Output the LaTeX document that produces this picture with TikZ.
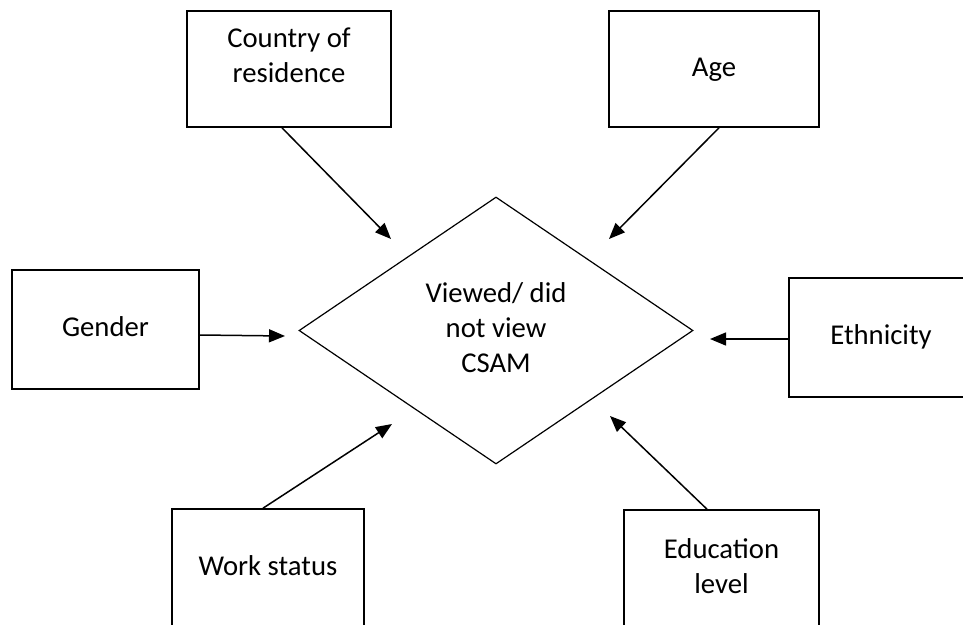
\documentclass[tikz,border=0pt]{standalone}
\usepackage{fontspec}
\setmainfont{Carlito}
\usetikzlibrary{shapes.geometric,arrows.meta,calc}

\tikzset{
  txt/.style={font=\fontsize{28.7}{35}\selectfont, align=center, text=black},
  factor/.style={draw=black, line width=1.6pt, rectangle, inner sep=0pt, txt},
  outcome/.style={draw=black, line width=1.2pt, diamond, inner sep=0pt,
    minimum width=394pt, minimum height=267pt, txt},
  link/.style={draw=black, line width=1.5pt, -{Triangle[length=16pt,width=13pt]}}
}

\begin{document}
\begin{tikzpicture}[x=1pt, y=-1pt]
  \useasboundingbox (0,0) rectangle (963,624);
  \clip (0,0) rectangle (963,624);

  % central outcome
  \node[outcome] (csam) at (496,330.5)
    {\strut Viewed/ did\\\strut not view\\\strut CSAM};

  % surrounding factors
  \node[factor, minimum width=204pt, minimum height=116pt] (country) at (289,69) {};
  \node[txt] (countrytxt) at ($(country.center)+(0,-11.5)$)
    {\strut Country of\\\strut residence};
  \node[factor, minimum width=210pt, minimum height=116pt] (age) at (714,69) {\strut Age};
  \node[factor, minimum width=187pt, minimum height=119pt] (gender) at (105.5,329.5) {\strut Gender};
  \node[factor, minimum width=184pt, minimum height=119pt] (ethnicity) at (881,337.5) {\strut Ethnicity};
  \node[factor, minimum width=192pt, minimum height=118pt] (work) at (268,568) {\strut Work status};
  \node[factor, minimum width=195pt, minimum height=117pt] (education) at (721.5,568.5)
    {\strut Education\\\strut level};

  % arrow ends, just short of the diamond
  \coordinate (tipcountry) at (391,239);
  \coordinate (tipage) at (609,239);
  \coordinate (tipgender) at (285,336);
  \coordinate (tipethnicity) at (710,339);
  \coordinate (tipwork) at (392,424);
  \coordinate (tipeducation) at (610,416);

  % connectors
  \draw[link] ($(country.south)+(-7,0)$) -- (tipcountry);
  \draw[link] ($(age.south)+(5,0)$) -- (tipage);
  \draw[link] ($(gender.east)+(0,5.5)$) -- (tipgender);
  \draw[link] ($(ethnicity.west)+(0,1.5)$) -- (tipethnicity);
  \draw[link] ($(work.north)+(-5,0)$) -- (tipwork);
  \draw[link] ($(education.north)+(-14.5,0)$) -- (tipeducation);
\end{tikzpicture}
\end{document}
